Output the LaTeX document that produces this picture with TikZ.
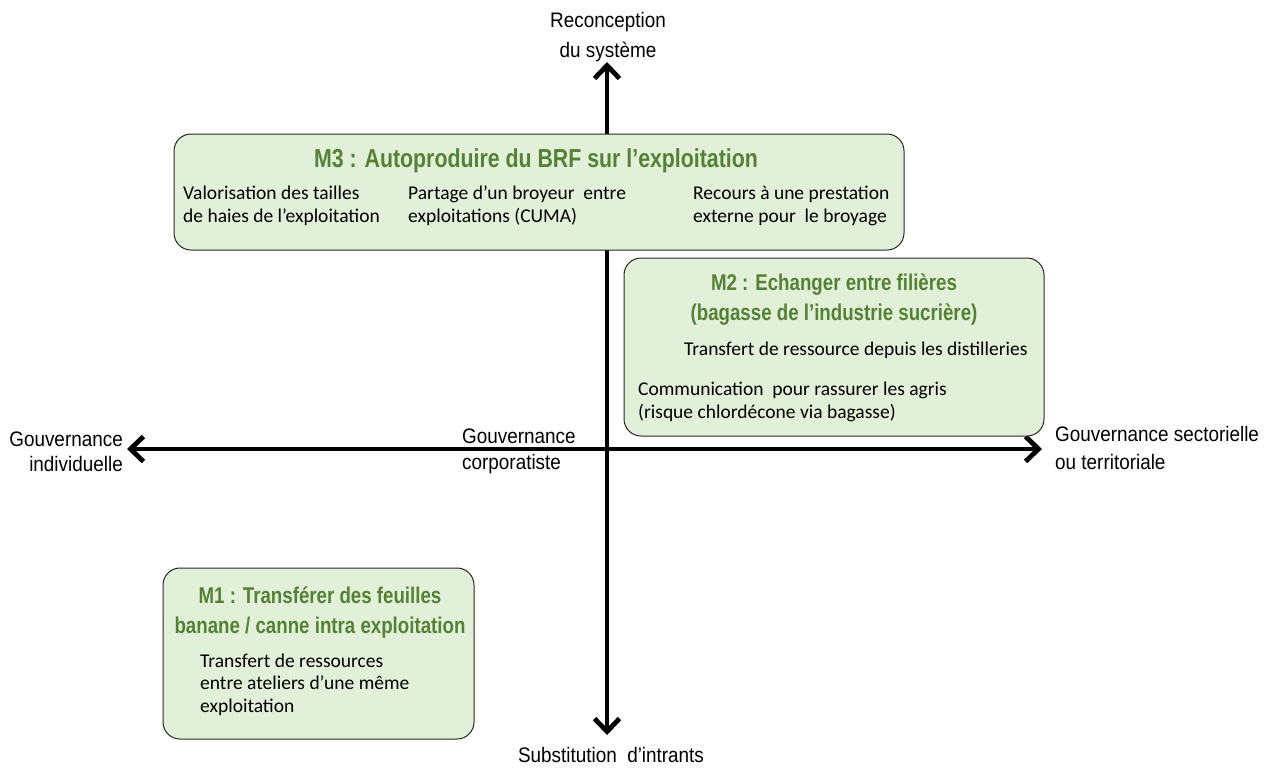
\documentclass[tikz,border=0pt]{standalone}
\usepackage{fontspec}
\usetikzlibrary{arrows.meta}
\setmainfont{Carlito}
\newfontfamily\labfont{Liberation Sans}[FakeStretch=0.9]
\newfontfamily\ttlfont{Liberation Sans}[FakeStretch=0.82]
\definecolor{boxfill}{HTML}{E2F0D9}
\definecolor{ttlgreen}{HTML}{548235}
\tikzset{
  box/.style={draw=black!85, line width=1pt, fill=boxfill, rounded corners=17pt, inner sep=0pt},
  axisline/.style={line width=4.8pt, {Straight Barb[length=13pt,width=25pt,line width=4.8pt]}-{Straight Barb[length=13pt,width=25pt,line width=4.8pt]}},
  body/.style={inner sep=0pt, align=left, font=\fontsize{19.5}{22.5}\selectfont},
  ttl/.style={inner sep=0pt, align=center, text=ttlgreen, font=\ttlfont\bfseries\fontsize{22.8}{29.5}\selectfont},
  ttlbig/.style={ttl, font=\ttlfont\bfseries\fontsize{26}{30}\selectfont},
  lab/.style={inner sep=0pt, font=\labfont\fontsize{21}{27}\selectfont}
}
\begin{document}
\begin{tikzpicture}[x=1pt,y=-1pt]
\useasboundingbox (0,0) rectangle (1274,769);
\coordinate (top) at (607,62);
\coordinate (bot) at (607,735);
\coordinate (left) at (127,449);
\coordinate (right) at (1042,449);
\draw[axisline] (bot) -- (top);
\draw[axisline] (left) -- (right);

% boxes
\node[box, minimum width=730pt, minimum height=116pt] (m3) at (539,192) {};
\node[box, minimum width=420pt, minimum height=178pt] (m2) at (834,347) {};
\node[box, minimum width=311pt, minimum height=171pt] (m1) at (318.5,653.5) {};

% M3
\node[ttlbig, anchor=base] (m3t) at (536,167) {M3 : Autoproduire du BRF sur l’exploitation};
\node[body, anchor=base west] (m3a) at (183,222) {Valorisation des tailles\\de haies de l’exploitation};
\node[body, anchor=base west] (m3b) at (408,222) {Partage d’un broyeur \ entre\\exploitations (CUMA)};
\node[body, anchor=base west] (m3c) at (693,222) {Recours à une prestation\\externe pour \ le broyage};

% M2
\node[ttl, anchor=base] (m2t) at (834,320) {M2 : Echanger entre filières\\(bagasse de l’industrie sucrière)};
\node[body, anchor=base west] (m2a) at (684,355) {Transfert de ressource depuis les distilleries};
\node[body, anchor=base west] (m2b) at (638,418) {Communication \ pour rassurer les agris\\(risque chlordécone via bagasse)};

% M1
\node[ttl, anchor=base] (m1t) at (320,633) {M1 : Transférer des feuilles\\banane / canne intra exploitation};
\node[body, anchor=base west] (m1a) at (200,712) {Transfert de ressources\\entre ateliers d’une même\\exploitation};

% axis labels
\node[lab, anchor=base, align=center, font=\labfont\fontsize{21}{30}\selectfont] (ltop) at (608,57) {Reconception\\du système};
\node[lab, anchor=base] (lbot) at (611,762) {Substitution \ d’intrants};
\node[lab, anchor=base east, align=right, font=\labfont\fontsize{21}{25}\selectfont] (lleft) at (123,471) {Gouvernance\\individuelle};
\node[lab, anchor=base west, align=left, font=\labfont\fontsize{21}{28}\selectfont] (lright) at (1055,469) {Gouvernance sectorielle\\ou territoriale};
\node[lab, anchor=base west, align=left, font=\labfont\fontsize{21}{26}\selectfont] (lmid) at (462,469) {Gouvernance\\corporatiste};
\end{tikzpicture}
\end{document}
